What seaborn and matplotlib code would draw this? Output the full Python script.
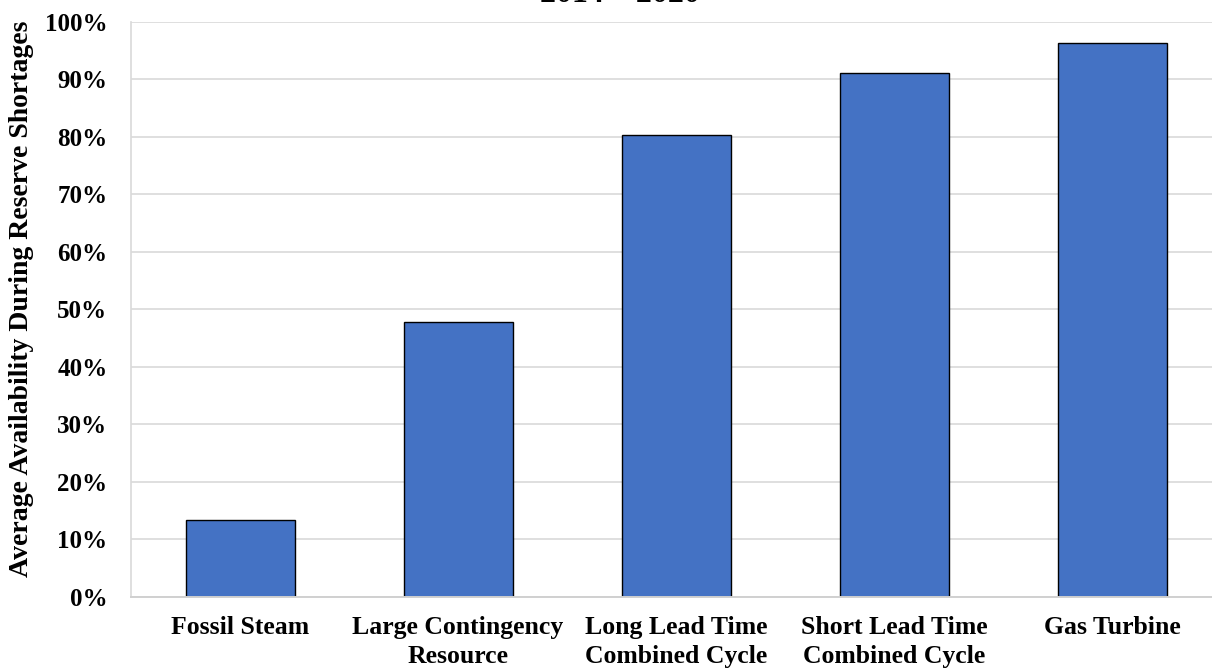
import matplotlib
matplotlib.use("Agg")
import matplotlib.pyplot as plt
import seaborn as sns
import pandas as pd
from matplotlib.ticker import FuncFormatter

categories = [
    "Fossil Steam",
    "Large Contingency\nResource",
    "Long Lead Time\nCombined Cycle",
    "Short Lead Time\nCombined Cycle",
    "Gas Turbine",
]
availability = [13.4, 47.8, 80.3, 91.1, 96.3]
y_ticks = [0, 10, 20, 30, 40, 50, 60, 70, 80, 90, 100]
title_text = "2014 \u2013 2020"
y_label = "Average Availability During Reserve Shortages"

sns.set_theme(style="white")
plt.rcParams["font.family"] = ["Liberation Serif", "DejaVu Serif"]
plt.rcParams["font.weight"] = "bold"

df = pd.DataFrame({"category": categories, "availability": availability})

fig = plt.figure(figsize=(12.12, 6.68), dpi=100)
ax = fig.add_axes([131 / 1212, 1 - 597 / 668, 1090 / 1212, 575.3 / 668])

sns.barplot(
    data=df, x="category", y="availability", ax=ax,
    color="#4472C4", saturation=1, width=0.5,
    edgecolor="#000000", linewidth=1.0, zorder=3,
)

ax.set_xlim(-0.5, len(categories) - 0.5)
ax.set_ylim(0, 100)
ax.set_yticks(y_ticks)
ax.yaxis.set_major_formatter(FuncFormatter(lambda v, p: f"{v:.0f}%"))
ax.grid(axis="y", color="#d9d9d9", linewidth=1.2, zorder=0)
ax.grid(axis="x", visible=False)

for side in ("top", "right"):
    ax.spines[side].set_visible(False)
ax.spines["left"].set_color("#d9d9d9")
ax.spines["left"].set_linewidth(1.2)
ax.spines["bottom"].set_color("#d0d0d0")
ax.spines["bottom"].set_linewidth(1.4)
ax.spines["bottom"].set_zorder(4)

ax.tick_params(axis="y", length=0, labelsize=18, colors="#000000", pad=17)
ax.tick_params(axis="x", length=0, labelsize=18.5, colors="#000000", pad=14)
for lbl in ax.get_xticklabels():
    lbl.set_fontweight("bold")
    lbl.set_linespacing(1.3)
for lbl in ax.get_yticklabels():
    lbl.set_fontweight("bold")

ax.set_xlabel("")
ax.set_ylabel("")

fig.text(22 / 1212, 1 - 299 / 668, y_label, rotation=90, ha="center",
         va="center", fontsize=20, fontweight="bold", color="#000000")
fig.text(620 / 1212, 1 - 1.5 / 668, title_text, ha="center", va="baseline",
         fontsize=23, fontweight="bold", color="#000000")

fig.savefig("out.png", dpi=100)
